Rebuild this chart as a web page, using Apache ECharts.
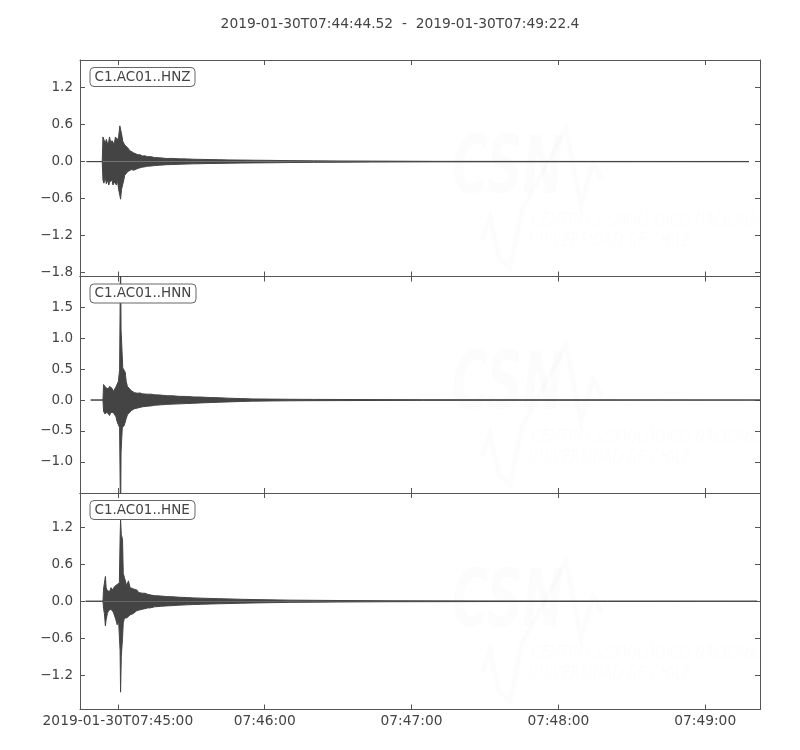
<!DOCTYPE html>
<html>
<head>
<meta charset="utf-8">
<title>C1.AC01 waveforms</title>
<script src="https://cdn.jsdelivr.net/npm/echarts@6/dist/echarts.min.js"></script>
<style>
  html, body { margin: 0; padding: 0; background: #fff; }
  #chart { width: 800px; height: 750px; }
</style>
</head>
<body>
<div id="chart"></div>
<script>
// seconds relative to 2019-01-30T07:45:00
const xMin = -15.48
const xMax = 262.4
const xTicks = [0, 60, 120, 180, 240]
const xTickLabels = ['2019-01-30T07:45:00', '07:46:00', '07:47:00', '07:48:00', '07:49:00']

const traceNames = ['C1.AC01..HNZ', 'C1.AC01..HNN', 'C1.AC01..HNE']
const yMins = [-1.865, -1.505, -1.75]
const yMaxs = [1.649, 2.0, 1.75]
const yTicksZ = [-1.8, -1.2, -0.6, 0, 0.6, 1.2]
const yTicksN = [-1.0, -0.5, 0, 0.5, 1.0, 1.5]
const yTicksE = [-1.2, -0.6, 0, 0.6, 1.2]

// envelope: time, upper, lower
const timeZ = [-12.8, -6.4, -6.1, -5.7, -5.2, -4.7, -4.2, -3.7, -3.4, -2.9, -2.4, -2.0, -1.5, -1.0, -0.6, -0.2, 0.3, 0.8, 1.1, 1.5, 2.0, 2.4, 2.8, 3.4, 4.1, 4.8, 5.5, 6.5, 7.3, 8.2, 9.1, 10, 11, 12, 13.5, 15, 17, 20, 22, 25, 28, 31, 34, 38, 41, 45, 50, 56, 62, 70, 80, 90, 104, 130, 180, 257.9]
const upperZ = [0, 0, 0.40, 0.43, 0.30, 0.36, 0.28, 0.33, 0.40, 0.30, 0.34, 0.36, 0.28, 0.40, 0.43, 0.35, 0.40, 0.58, 0.57, 0.45, 0.33, 0.30, 0.27, 0.24, 0.22, 0.18, 0.19, 0.14, 0.15, 0.11, 0.11, 0.09, 0.095, 0.08, 0.08, 0.065, 0.062, 0.05, 0.052, 0.045, 0.044, 0.038, 0.036, 0.032, 0.031, 0.027, 0.025, 0.022, 0.02, 0.016, 0.012, 0.01, 0.008, 0.004, 0.003, 0.002]
const lowerZ = [0, 0, -0.30, -0.35, -0.25, -0.36, -0.30, -0.38, -0.33, -0.36, -0.30, -0.38, -0.33, -0.36, -0.38, -0.30, -0.45, -0.55, -0.61, -0.45, -0.42, -0.30, -0.22, -0.19, -0.16, -0.15, -0.13, -0.14, -0.12, -0.11, -0.10, -0.09, -0.085, -0.075, -0.072, -0.065, -0.058, -0.05, -0.048, -0.043, -0.04, -0.036, -0.034, -0.03, -0.029, -0.026, -0.024, -0.021, -0.019, -0.015, -0.012, -0.01, -0.007, -0.004, -0.003, -0.002]

const timeN = [-11.1, -6.1, -5.85, -5.4, -4.9, -4.4, -3.9, -3.4, -2.9, -2.4, -1.9, -1.35, -0.8, -0.3, 0.2, 0.7, 1.1, 1.3, 1.8, 2.0, 2.6, 3.0, 3.4, 3.9, 4.5, 5.5, 6.2, 6.8, 8, 9, 10, 12, 13.5, 15, 17.5, 20, 22.5, 25, 28, 31, 34, 38, 41, 45, 50, 55, 62, 70, 80, 90, 125, 180, 262.4]
const upperN = [0, 0, 0.25, 0.26, 0.20, 0.22, 0.18, 0.22, 0.20, 0.19, 0.14, 0.13, 0.21, 0.22, 0.30, 0.49, 2.40, 1.14, 1.12, 0.52, 0.51, 0.45, 0.30, 0.22, 0.19, 0.15, 0.16, 0.12, 0.11, 0.115, 0.10, 0.095, 0.095, 0.085, 0.08, 0.07, 0.068, 0.06, 0.058, 0.05, 0.048, 0.04, 0.038, 0.03, 0.024, 0.018, 0.015, 0.012, 0.01, 0.009, 0.005, 0.003, 0.002]
const lowerN = [0, 0, -0.18, -0.22, -0.24, -0.20, -0.22, -0.25, -0.20, -0.23, -0.20, -0.18, -0.27, -0.35, -0.40, -0.45, -2.00, -0.84, -0.45, -0.42, -0.41, -0.38, -0.30, -0.24, -0.22, -0.17, -0.15, -0.14, -0.13, -0.12, -0.11, -0.10, -0.095, -0.085, -0.078, -0.07, -0.066, -0.062, -0.057, -0.052, -0.046, -0.04, -0.036, -0.03, -0.024, -0.018, -0.015, -0.012, -0.01, -0.009, -0.005, -0.003, -0.002]

const timeE = [-13.2, -6.1, -5.85, -5.5, -5.1, -4.8, -4.3, -3.8, -3.3, -2.8, -2.3, -1.8, -1.3, -0.8, -0.3, 0.3, 0.6, 0.9, 1.1, 1.4, 1.9, 2.2, 2.7, 3.2, 3.6, 4.3, 5.0, 5.7, 6.3, 7, 7.8, 8.5, 10, 11, 12, 13.5, 15, 17.5, 20, 22.5, 25, 28, 31, 34, 38, 41, 45, 50, 56, 62, 70, 80, 90, 110, 150, 200, 261.2]
const upperE = [0, 0, 0.20, 0.22, 0.40, 0.22, 0.17, 0.20, 0.16, 0.22, 0.18, 0.21, 0.24, 0.25, 0.27, 0.30, 0.30, 1.00, 1.32, 1.08, 1.00, 0.45, 0.38, 0.35, 0.25, 0.33, 0.22, 0.24, 0.20, 0.17, 0.18, 0.14, 0.13, 0.13, 0.115, 0.10, 0.09, 0.085, 0.075, 0.072, 0.065, 0.06, 0.054, 0.05, 0.045, 0.042, 0.038, 0.032, 0.027, 0.023, 0.018, 0.015, 0.012, 0.008, 0.005, 0.003, 0.002]
const lowerE = [0, 0, -0.12, -0.20, -0.40, -0.30, -0.20, -0.15, -0.18, -0.13, -0.16, -0.18, -0.20, -0.30, -0.38, -0.32, -0.35, -0.80, -1.47, -0.89, -0.60, -0.35, -0.27, -0.24, -0.27, -0.24, -0.22, -0.19, -0.20, -0.17, -0.15, -0.14, -0.13, -0.12, -0.11, -0.105, -0.09, -0.082, -0.075, -0.07, -0.063, -0.058, -0.053, -0.049, -0.044, -0.041, -0.037, -0.032, -0.027, -0.023, -0.018, -0.015, -0.012, -0.008, -0.005, -0.003, -0.002]

const traces = [
  { t: timeZ, hi: upperZ, lo: lowerZ, ticks: yTicksZ },
  { t: timeN, hi: upperN, lo: lowerN, ticks: yTicksN },
  { t: timeE, hi: upperE, lo: lowerE, ticks: yTicksE }
]

const gridTops = [60, 276.5, 493]
const gridHeight = 216.5
const ink = '#444'
const frame = '#555'
const font = 'DejaVu Sans'

function yLabel(v) {
  if (Math.abs(v) < 1e-9) return '0.0'
  return v.toFixed(1).replace('-', '\u2212')
}

const grid = []
const xAxis = []
const yAxis = []
const series = []
const title = [{
  text: '2019-01-30T07:44:44.52  -  2019-01-30T07:49:22.4',
  left: 'center',
  top: 12,
  textStyle: { fontFamily: font, fontSize: 13.8, fontWeight: 'normal', color: ink }
}]
const graphic = []

traces.forEach((tr, i) => {
  grid.push({ left: 80, right: 40, top: gridTops[i], height: gridHeight, outerBoundsMode: 'none' })

  const baseX = {
    gridIndex: i, type: 'value', min: xMin, max: xMax,
    axisLine: { show: true, onZero: false, lineStyle: { color: frame, width: 1 } },
    axisTick: { show: true, inside: true, length: 5, customValues: xTicks, lineStyle: { color: frame } },
    splitLine: { show: false }
  }
  xAxis.push(Object.assign({}, baseX, {
    position: 'bottom',
    axisLabel: {
      show: i === traces.length - 1, customValues: xTicks, margin: 5,
      fontFamily: font, fontSize: 13.8, color: ink,
      formatter: v => xTickLabels[xTicks.indexOf(v)]
    }
  }))
  xAxis.push(Object.assign({}, baseX, { position: 'top', axisLabel: { show: false } }))

  const baseY = {
    gridIndex: i, type: 'value', min: yMins[i], max: yMaxs[i],
    axisLine: { show: true, onZero: false, lineStyle: { color: frame, width: 1 } },
    axisTick: { show: true, inside: true, length: 5, customValues: tr.ticks, lineStyle: { color: frame } },
    splitLine: { show: false }
  }
  yAxis.push(Object.assign({}, baseY, {
    position: 'left',
    axisLabel: {
      customValues: tr.ticks, margin: 7,
      fontFamily: font, fontSize: 13.5, color: ink, formatter: yLabel
    }
  }))
  yAxis.push(Object.assign({}, baseY, { position: 'right', axisLabel: { show: false } }))

  // upper and lower envelopes, each filled to the zero line
  const envelopes = [tr.hi, tr.lo]
  envelopes.forEach(env => {
    series.push({
      type: 'line', xAxisIndex: 2 * i, yAxisIndex: 2 * i,
      showSymbol: false, symbol: 'none', silent: true, animation: false,
      lineStyle: { color: ink, width: 1 },
      areaStyle: { color: ink, opacity: 1, origin: 'auto' },
      data: tr.t.map((t, k) => [t, env[k]])
    })
  })

  title.push({
    text: traceNames[i],
    left: 89.5,
    top: gridTops[i] + 7,
    padding: [3, 5, 3, 5],
    borderWidth: 1,
    borderColor: '#666',
    borderRadius: 4,
    backgroundColor: '#fff',
    textStyle: { fontFamily: font, fontSize: 13.5, fontWeight: 'normal', color: ink }
  })

  // faint CSN watermark
  const oy = gridTops[i] - 60
  const wm = 'rgba(0,0,0,0.013)'
  graphic.push({
    type: 'text', z: 0, x: 452, y: 132 + oy, scaleX: 0.62,
    style: { text: 'CSN', fontFamily: 'DejaVu Sans', fontStyle: 'italic', fontWeight: 'bold', fontSize: 80, fill: wm }
  })
  graphic.push({
    type: 'polyline', z: 0,
    shape: { points: [[482, 240 + oy], [490, 218 + oy], [499, 258 + oy], [510, 268 + oy], [522, 210 + oy], [566, 128 + oy], [581, 205 + oy], [593, 163 + oy], [602, 180 + oy]] },
    style: { stroke: wm, lineWidth: 5, fill: null }
  })
  graphic.push({
    type: 'text', z: 0, x: 532, y: 212 + oy, scaleX: 0.72,
    style: { text: 'CENTRO SISMOLÓGICO NACIONAL', fontFamily: 'DejaVu Sans', fontStyle: 'italic', fontSize: 19, fill: wm }
  })
  graphic.push({
    type: 'text', z: 0, x: 528, y: 232 + oy, scaleX: 0.72,
    style: { text: 'UNIVERSIDAD DE CHILE', fontFamily: 'DejaVu Sans', fontStyle: 'italic', fontSize: 19, fill: wm }
  })
})

const chart = echarts.init(document.getElementById('chart'), null, { renderer: 'canvas' })
chart.setOption({
  animation: false,
  backgroundColor: '#fff',
  title,
  grid,
  xAxis,
  yAxis,
  series,
  graphic
})
</script>
</body>
</html>
